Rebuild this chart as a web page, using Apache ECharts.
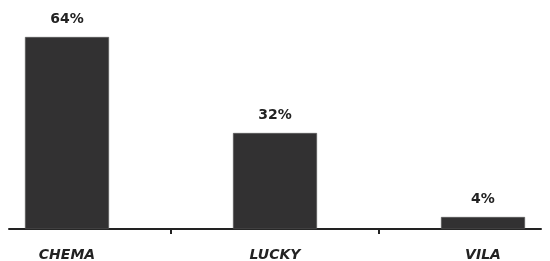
<!DOCTYPE html>
<html>
<head>
	<meta charset="utf-8">
	<title></title>
	<script src="https://cdn.jsdelivr.net/npm/echarts@6/dist/echarts.min.js"></script>
	<style>
		html,body{margin:0;padding:0;background:#fff;}
		#main{width:550px;height:261px;}
	</style>
</head>
<body>
	<div id="main"></div>
<script type="text/javascript">
	var categories=['CHEMA','LUCKY','VILA'];
	var shares=[64,32,4];
	var tickPos=[0.5,1.5];

	var myChart=echarts.init(document.getElementById('main'));
	var barData=[];
	for(var i in shares){
		barData.push([Number(i),shares[i]]);
	}
	var option={
		animation:false,
		grid:{left:9,right:9,top:37,bottom:32,outerBoundsMode:'none',containLabel:false},
		xAxis:{
			type:'value',
			min:-0.2788,
			max:2.2788,
			splitLine:{show:false},
			axisLine:{show:true,lineStyle:{color:'#222',width:2}},
			axisTick:{show:true,customValues:tickPos,length:5,lineStyle:{color:'#222',width:2}},
			axisLabel:{
				customValues:[0,1,2],
				formatter:function(v){return categories[Math.round(v)];},
				margin:19,
				color:'#222',
				fontFamily:'DejaVu Sans',
				fontWeight:'bold',
				fontStyle:'italic',
				fontSize:14
			}
		},
		yAxis:{type:'value',min:0,max:64,show:false},
		series:[
			{
				type:'bar',
				data:barData,
				barWidth:84,
				itemStyle:{color:'#323132',borderColor:'#555',borderWidth:0.6},
				label:{
					show:true,
					position:'top',
					distance:11,
					formatter:function(p){return p.value[1]+'%';},
					color:'#222',
					fontFamily:'DejaVu Sans',
					fontWeight:'bold',
					fontSize:14
				}
			}
		]
	};
	myChart.setOption(option);
</script>
</body>
</html>
